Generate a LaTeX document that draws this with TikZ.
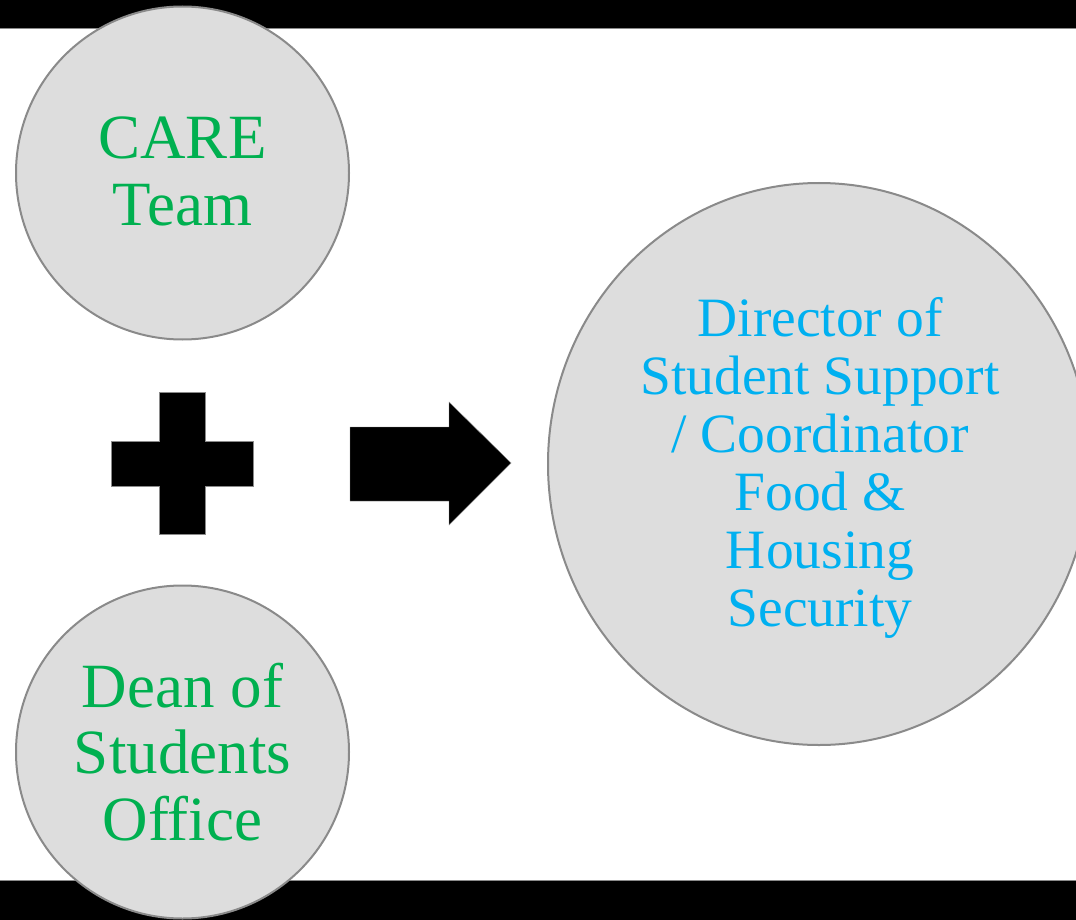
\documentclass[tikz,border=0pt]{standalone}
\usepackage{fontspec}
\setmainfont{Liberation Serif}
\usetikzlibrary{shapes.geometric}
\definecolor{cgreen}{HTML}{00B050}
\definecolor{ccyan}{HTML}{00B0F0}
\definecolor{cfill}{HTML}{DDDDDD}
\definecolor{cline}{HTML}{8A8A8A}
\begin{document}
\begin{tikzpicture}[x=1pt,y=-1pt,
  bar/.style={fill=black,draw=cline,line width=1pt},
  bubble/.style={draw=cline,fill=cfill,line width=2pt,inner sep=0pt,outer sep=0pt},
  roundbubble/.style={bubble,circle,minimum size=333pt},
  shapeblack/.style={fill=black,draw=cline,line width=0.4pt},
  greentext/.style={text=cgreen,anchor=base,inner sep=0pt,font=\fontsize{63}{67}\selectfont},
  bluetext/.style={text=ccyan,anchor=base,inner sep=0pt,font=\fontsize{55.5}{58}\selectfont}]
\useasboundingbox (0,0) rectangle (1076,920);
% bars
\path[bar] (-2,-2) rectangle (1078,28.5);
\path[bar] (-2,880.5) rectangle (1078,922);
% bubbles
\node[roundbubble] (care) at (182.5,173) {};
\node[roundbubble] (dean) at (182.5,752) {};
\node[bubble,ellipse,minimum width=542pt,minimum height=562pt] (dir) at (819,464) {};
% texts
\node[greentext] (caretxt) at (182.5,159) {\begin{tabular}[t]{@{}c@{}}CARE\\Team\end{tabular}};
\node[greentext,font=\fontsize{63}{66.5}\selectfont] (deantxt) at (182.5,707) {\begin{tabular}[t]{@{}c@{}}Dean of\\Students\\Office\end{tabular}};
\node[bluetext] (dirtxt) at (820,336) {\begin{tabular}[t]{@{}c@{}}Director of\\Student Support\\/ Coordinator\\Food \&\\Housing\\Security\end{tabular}};
% plus sign
\path[shapeblack] (159,392) -- (205,392) -- (205,441) -- (253,441) -- (253,486) -- (205,486) -- (205,534) -- (159,534) -- (159,486) -- (111,486) -- (111,441) -- (159,441) -- cycle;
% arrow
\path[shapeblack] (350,427) -- (449,427) -- (449,402) -- (511,463) -- (449,525) -- (449,501) -- (350,501) -- cycle;
\end{tikzpicture}
\end{document}
